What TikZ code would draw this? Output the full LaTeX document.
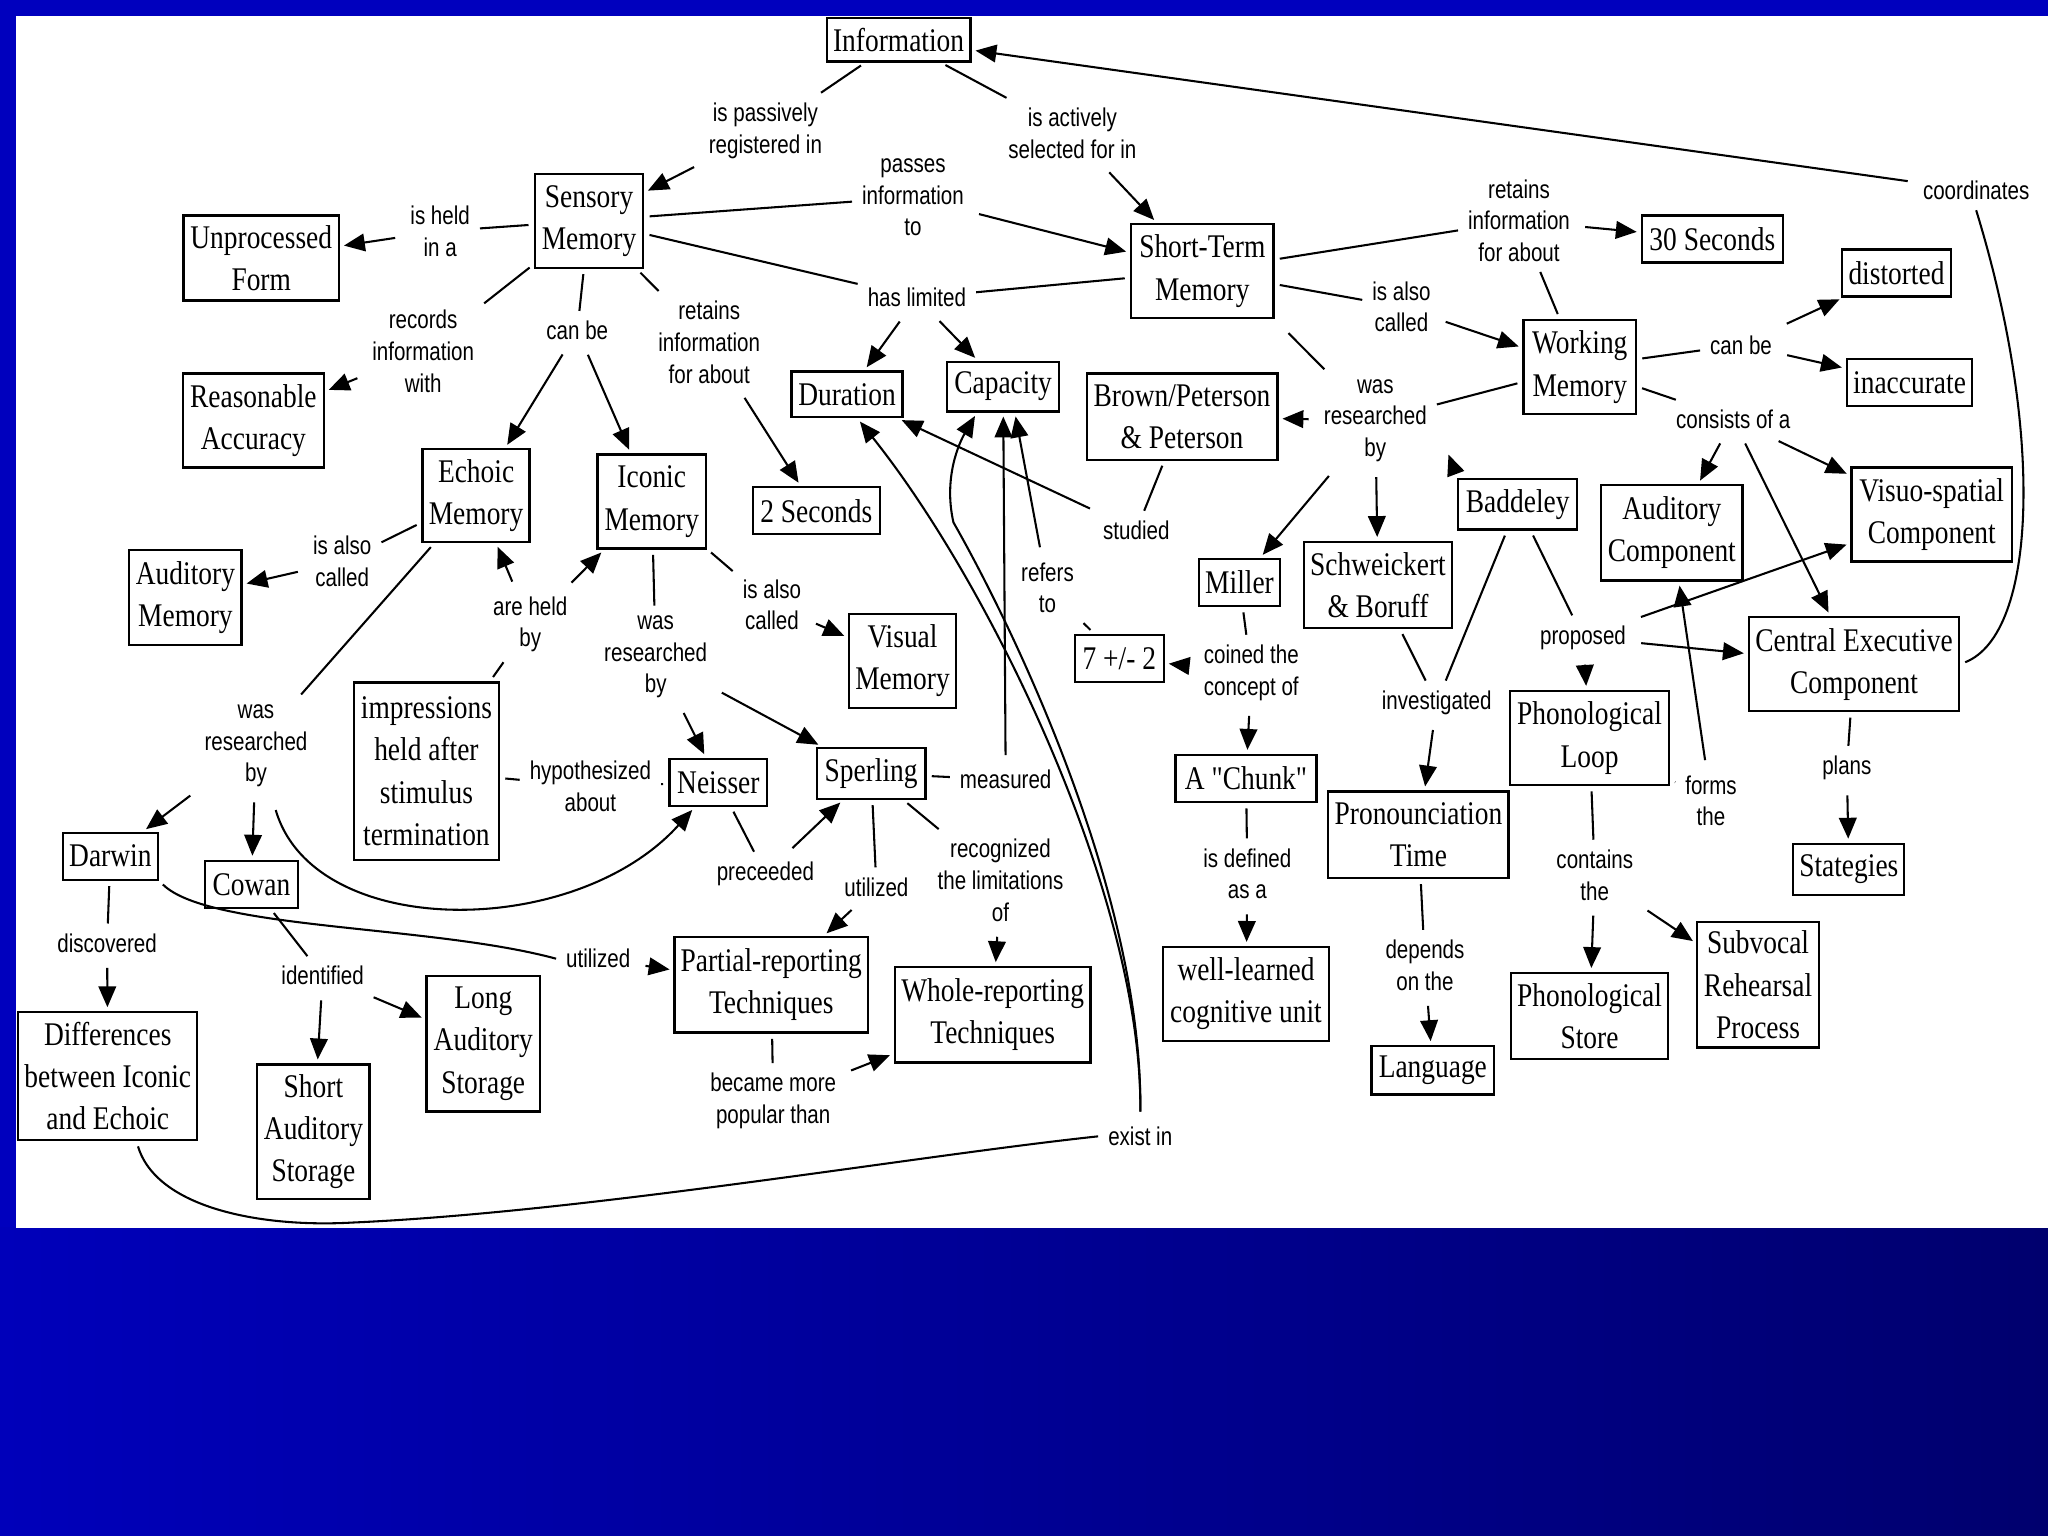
\documentclass[tikz,border=0pt]{standalone}
\usepackage{fontspec}
\newfontfamily\bxfont{Liberation Serif}[FakeStretch=0.83]
\newfontfamily\lbfont{Liberation Sans}[FakeStretch=0.8]
\usetikzlibrary{arrows.meta,calc}
\definecolor{bgblue}{RGB}{0,0,190}
\definecolor{shadeL}{RGB}{0,0,186}
\definecolor{shadeR}{RGB}{0,0,110}
\begin{document}
\begin{tikzpicture}[x=0.1mm,y=-0.1mm,
 bx/.style={draw,line width=0.5pt,inner sep=0pt,align=center,font=\bxfont\fontsize{7.2}{9.2}\selectfont},
 sz/.style 2 args={minimum width=#1*0.1mm,minimum height=#2*0.1mm},
 lb/.style={inner sep=2pt,align=center,font=\lbfont\fontsize{5.6}{6.9}\selectfont},
 ln/.style={line width=0.45pt,shorten <=0.4mm},
 ar/.style={line width=0.45pt,shorten <=0.4mm,shorten >=0.3mm,-{Triangle[length=1.6mm,width=1.35mm]}},
]
\useasboundingbox (0,0) rectangle (1568,1176);
\fill[bgblue] (0,0) rectangle (1568,1176);
\shade[left color=shadeL,right color=shadeR] (0,940) rectangle (1568,1176);
\fill[white] (12,12) rectangle (1568,940);

% concept boxes
\node[bx,sz={110}{33}] (info) at (688,30.5) {Information};
\node[bx,sz={83}{72}] (sensory) at (451,169) {Sensory\\Memory};
\node[bx,sz={119}{65}] (unproc) at (200,197.5) {Unprocessed\\Form};
\node[bx,sz={108}{72}] (reason) at (194,322) {Reasonable\\Accuracy};
\node[bx,sz={109}{72}] (stm) at (920.5,207.5) {Short-Term\\Memory};
\node[bx,sz={85}{35}] (dur) at (648.5,302) {Duration};
\node[bx,sz={86}{38}] (cap) at (768,296) {Capacity};
\node[bx,sz={97}{36}] (twosec) at (625,391) {2 Seconds};
\node[bx,sz={146}{66}] (brown) at (905,319) {Brown/Peterson\\\& Peterson};
\node[bx,sz={82}{71}] (echoic) at (364.5,379.5) {Echoic\\Memory};
\node[bx,sz={83}{72}] (iconic) at (499,384) {Iconic\\Memory};
\node[bx,sz={86}{73}] (audmem) at (142,457.5) {Auditory\\Memory};
\node[bx,sz={82}{72}] (visual) at (691,506) {Visual\\Memory};
\node[bx,sz={111}{136}] (impress) at (326.5,590.5) {impressions\\held after\\stimulus\\termination};
\node[bx,sz={75}{36}] (neisser) at (550,599) {Neisser};
\node[bx,sz={83}{39}] (sperling) at (667,592) {Sperling};
\node[bx,sz={73}{36}] (darwin) at (84.5,655.5) {Darwin};
\node[bx,sz={71}{36}] (cowan) at (192.5,677) {Cowan};
\node[bx,sz={148}{73}] (partial) at (590.5,754) {Partial-reporting\\Techniques};
\node[bx,sz={150}{73}] (whole) at (760,777) {Whole-reporting\\Techniques};
\node[bx,sz={87}{104}] (longaud) at (370,799) {Long\\Auditory\\Storage};
\node[bx,sz={86}{103}] (shortaud) at (240,866.5) {Short\\Auditory\\Storage};
\node[bx,sz={137}{98}] (diff) at (82.5,824) {Differences\\between Iconic\\and Echoic};
\node[bx,sz={108}{36}] (thirty) at (1311,183) {30 Seconds};
\node[bx,sz={86}{72}] (wm) at (1209.5,281) {Working\\Memory};
\node[bx,sz={83}{36}] (distorted) at (1452,209) {distorted};
\node[bx,sz={96}{36}] (inacc) at (1462,293) {inaccurate};
\node[bx,sz={62}{36}] (miller) at (949,446) {Miller};
\node[bx,sz={113}{66}] (schw) at (1055,448) {Schweickert\\\& Boruff};
\node[bx,sz={91}{39}] (baddeley) at (1162,386) {Baddeley};
\node[bx,sz={108}{73}] (audcomp) at (1280,408) {Auditory\\Component};
\node[bx,sz={123}{72}] (visuo) at (1479,394) {Visuo-spatial\\Component};
\node[bx,sz={68}{36}] (seven) at (857,504) {7 +/- 2};
\node[bx,sz={108}{36}] (chunk) at (954,596) {A "Chunk"};
\node[bx,sz={161}{72}] (central) at (1419.5,508.5) {Central Executive\\Component};
\node[bx,sz={122}{72}] (phonloop) at (1217,565) {Phonological\\Loop};
\node[bx,sz={138}{66}] (pron) at (1086,639) {Pronounciation\\Time};
\node[bx,sz={85}{39}] (strat) at (1415.5,665.5) {Stategies};
\node[bx,sz={127}{72}] (wellearn) at (954,761) {well-learned\\cognitive unit};
\node[bx,sz={94}{37}] (language) at (1097,819.5) {Language};
\node[bx,sz={120}{66}] (phonstore) at (1217,778) {Phonological\\Store};
\node[bx,sz={93}{96}] (subvocal) at (1346,754) {Subvocal\\Rehearsal\\Process};

% link labels
\node[lb] (l1) at (586,100) {is passively\\registered in};
\node[lb] (l2) at (821,102) {is actively\\selected for in};
\node[lb] (l3) at (699,151) {passes\\information\\to};
\node[lb] (l4) at (337,177) {is held\\in a};
\node[lb] (l5) at (324,269) {records\\information\\with};
\node[lb] (l6) at (442,253) {can be};
\node[lb] (l7) at (543,262) {retains\\information\\for about};
\node[lb] (l8) at (702,228) {has limited};
\node[lb] (l9) at (1163,169) {retains\\information\\for about};
\node[lb] (l10) at (1073,235) {is also\\called};
\node[lb] (l11) at (1333,264) {can be};
\node[lb] (l12) at (1327,321) {consists of a};
\node[lb] (l13) at (1513,146) {coordinates};
\node[lb] (l14) at (1053,322) {was\\researched\\by};
\node[lb] (l15) at (870,406) {studied};
\node[lb] (l16) at (802,450) {refers\\to};
\node[lb] (l17) at (262,430) {is also\\called};
\node[lb] (l18) at (406,478) {are held\\by};
\node[lb] (l19) at (502,503) {was\\researched\\by};
\node[lb] (l20) at (591,463) {is also\\called};
\node[lb] (l21) at (196,571) {was\\researched\\by};
\node[lb] (l22) at (452,602) {hypothesized\\about};
\node[lb] (l23) at (770,597) {measured};
\node[lb] (l24) at (586,669) {preceeded};
\node[lb] (l25) at (671,679) {utilized};
\node[lb] (l26) at (766,674) {recognized\\the limitations\\of};
\node[lb] (l27) at (82,722) {discovered};
\node[lb] (l28) at (247,747) {identified};
\node[lb] (l29) at (458,734) {utilized};
\node[lb] (l30) at (592,843) {became more\\popular than};
\node[lb] (l31) at (873,870) {exist in};
\node[lb] (l32) at (958,515) {coined the\\concept of};
\node[lb] (l33) at (955,669) {is defined\\as a};
\node[lb] (l34) at (1100,538) {investigated};
\node[lb] (l35) at (1212,488) {proposed};
\node[lb] (l36) at (1310,613) {forms\\the};
\node[lb] (l37) at (1414,588) {plans};
\node[lb] (l38) at (1221,670) {contains\\the};
\node[lb] (l39) at (1091,739) {depends\\on the};

% connectors
\draw[ln] (info) -- (l1);
\draw[ar] (l1) -- (sensory);
\draw[ln] (info) -- (l2);
\draw[ar] (l2) -- (stm);
\draw[ln] (sensory) -- (l3);
\draw[ar] (l3) -- (stm);
\draw[ln] (sensory) -- (l8);
\draw[ln] (stm) -- (l8);
\draw[ar] (l8) -- (dur);
\draw[ar] (l8) -- (cap);
\draw[ln] (sensory) -- (l4);
\draw[ar] (l4) -- (unproc);
\draw[ln] (sensory) -- (l5);
\draw[ar] (l5) -- (reason);
\draw[ln] (sensory) -- (l6);
\draw[ar] (l6) -- (echoic);
\draw[ar] (l6) -- (iconic);
\draw[ln] (sensory) -- (l7);
\draw[ar] (l7) -- (twosec);
\draw[ln] (stm) -- (l9);
\draw[ln] (wm) -- (l9);
\draw[ar] (l9) -- (thirty);
\draw[ln] (stm) -- (l10);
\draw[ar] (l10) -- (wm);
\draw[ln] (wm) -- (l11);
\draw[ar] (l11) -- (distorted);
\draw[ar] (l11) -- (inacc);
\draw[ln] (wm) -- (l12);
\draw[ar] (l12) -- (audcomp);
\draw[ar] (l12) -- (visuo);
\draw[ar] (l12) -- (central);
\draw[ln] (central.east) .. controls (1560,485) and (1565,330) .. (l13.south);
\draw[ar] (l13) -- (info);
\draw[ln,shorten <=1.5mm] (stm.south east) -- (l14);
\draw[ln] (wm) -- (l14);
\draw[ar] (l14) -- (brown);
\draw[ar] (l14) -- (miller);
\draw[ar] (l14) -- (schw);
\coordinate (bdtip) at (1109,348);
\draw[ar,shorten >=0pt] (baddeley.north west) -- (bdtip);
\draw[ln] (brown) -- (l15);
\draw[ar] (l15) -- (dur);
\draw[ln] (seven) -- (l16);
\draw[ar] (l16) -- ($(cap.south)+(9,0)$);
\draw[ln] (sperling) -- (l23);
\draw[ar] (l23) -- (cap);
\draw[ln] ($(diff.south)+(22,0)$) .. controls (120,925) and (200,940) .. (270,936)
  .. controls (450,928) and (700,885) .. (l31.west);
\draw[ar] (l31.north) .. controls (875,690) and (760,450) .. ($(dur.south)+(8,0)$);
\draw[ar] (l31.north) .. controls (875,680) and (770,470) .. (730,400)
  .. controls (722,365) and (735,338) .. ($(cap.south)+(-20,0)$);
\draw[ln] (echoic) -- (l17);
\draw[ar] (l17) -- (audmem);
\draw[ln] (echoic) -- (l21);
\draw[ar] (l21) -- (darwin);
\draw[ar] (l21) -- (cowan);
\draw[ar] ($(l21.south)+(14,6)$) .. controls (240,720) and (440,720) .. ($(neisser.south)+(-18,0)$);
\draw[ln] (impress) -- (l18);
\draw[ar] (l18) -- (echoic);
\draw[ar] (l18) -- (iconic);
\draw[ln] (impress) -- (l22);
\draw[ln] (neisser) -- (l22);
\draw[ln] (iconic) -- (l19);
\draw[ar] (l19) -- (neisser);
\draw[ar] (l19) -- (sperling);
\draw[ln] (iconic) -- (l20);
\draw[ar] (l20) -- (visual);
\draw[ln] (neisser) -- (l24);
\draw[ar] (l24) -- (sperling);
\draw[ln] (sperling) -- (l25);
\draw[ar] (l25) -- (partial);
\draw[ln] (sperling) -- (l26);
\draw[ar] (l26) -- (whole);
\draw[ln] (darwin) -- (l27);
\draw[ar] (l27) -- (diff);
\draw[ln] (darwin.south east) .. controls (160,712) and (330,708) .. (l29.west);
\draw[ar] (l29) -- (partial);
\draw[ln] (cowan) -- (l28);
\draw[ar] (l28) -- (shortaud);
\draw[ar] (l28) -- (longaud);
\draw[ln] (partial) -- (l30);
\draw[ar] (l30) -- (whole);
\draw[ln] (miller) -- (l32);
\draw[ar] (l32) -- (seven);
\draw[ar] (l32) -- (chunk);
\draw[ln] (chunk) -- (l33);
\draw[ar] (l33) -- (wellearn);
\draw[ln] (schw) -- (l34);
\draw[ln] (baddeley) -- (l34);
\draw[ar] (l34) -- (pron);
\draw[ln] (pron) -- (l39);
\draw[ar] (l39) -- (language);
\draw[ln] (baddeley) -- (l35);
\draw[ar] (l35) -- (phonloop);
\draw[ar] (l35) -- (central);
\draw[ar] (l35) -- (visuo);
\draw[ln] (phonloop) -- (l36);
\draw[ar] (l36) -- (audcomp);
\draw[ln] (central) -- (l37);
\draw[ar] (l37) -- (strat);
\draw[ln] (phonloop) -- (l38);
\draw[ar] (l38) -- (phonstore);
\draw[ar] (l38) -- (subvocal);
\end{tikzpicture}
\end{document}
